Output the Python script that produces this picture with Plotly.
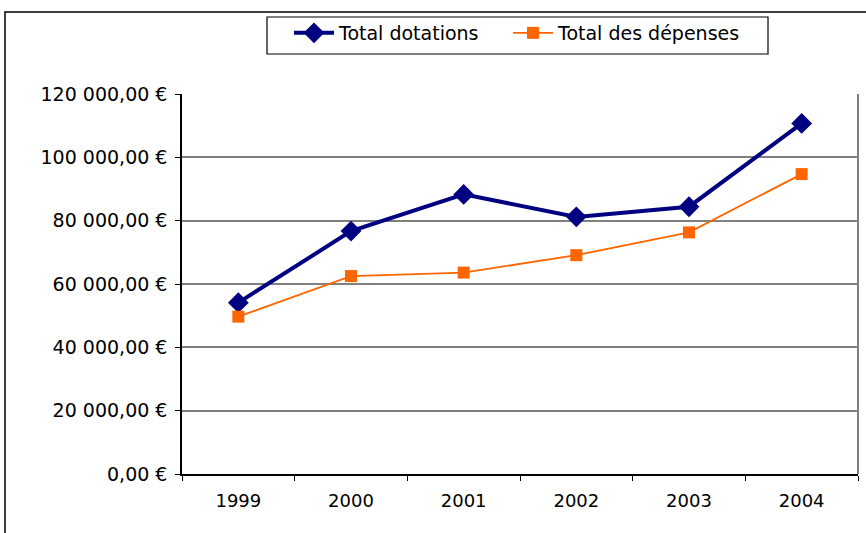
import plotly.graph_objects as go

years = ["1999", "2000", "2001", "2002", "2003", "2004"]
total_dotations = [54100, 76700, 88300, 81200, 84400, 110700]
total_depenses = [49700, 62500, 63600, 69100, 76300, 94700]
y_tick_vals = [0, 20000, 40000, 60000, 80000, 100000, 120000]
y_tick_text = ["0,00 €", "20 000,00 €", "40 000,00 €", "60 000,00 €",
               "80 000,00 €", "100 000,00 €", "120 000,00 €"]

FONT = "DejaVu Sans"

fig = go.Figure()
fig.add_trace(go.Scatter(
    x=years, y=total_dotations, name="Total dotations", mode="lines+markers",
    line=dict(color="#000080", width=4),
    marker=dict(symbol="diamond", size=16, color="#000080"),
    legend="legend",
))
fig.add_trace(go.Scatter(
    x=years, y=total_depenses, name="Total des dépenses", mode="lines+markers",
    line=dict(color="#FF6600", width=1.8),
    marker=dict(symbol="square", size=12, color="#FF6600"),
    legend="legend2",
))

L, R, T, B = 182, 8, 94, 59
W, H = 866, 533
pw, ph = W - L - R, H - T - B

def px_x(p):
    return (p - L) / pw

def px_y(p):
    return (H - B - p) / ph

legend_common = dict(
    orientation="h", yanchor="top", xanchor="left",
    bgcolor="rgba(0,0,0,0)", borderwidth=0,
    font=dict(family=FONT, size=19, color="black"),
    itemwidth=40,
)

fig.update_layout(
    width=W, height=H,
    margin=dict(l=L, r=R, t=T, b=B, autoexpand=False),
    paper_bgcolor="white", plot_bgcolor="white",
    font=dict(family=FONT, size=18, color="black"),
    showlegend=True,
    legend=dict(x=px_x(289), y=px_y(14), **legend_common),
    legend2=dict(x=px_x(508), y=px_y(14), **legend_common),
    xaxis=dict(
        type="category", range=[-0.5, 5.5], tickson="boundaries",
        ticks="outside", ticklen=5, tickcolor="black", tickwidth=1,
        showline=True, linecolor="black", linewidth=1.5,
        showgrid=False, zeroline=False, fixedrange=True,
        ticklabelstandoff=10,
        tickfont=dict(family=FONT, size=18, color="black"),
    ),
    yaxis=dict(
        range=[0, 120000], tickvals=y_tick_vals, ticktext=y_tick_text,
        ticks="outside", ticklen=5, tickcolor="black", tickwidth=1,
        showline=True, linecolor="black", linewidth=1.5,
        showgrid=True, gridcolor="#808080", gridwidth=1.5,
        zeroline=False, fixedrange=True,
        ticklabelstandoff=4,
        tickfont=dict(family=FONT, size=19, color="black"),
    ),
    shapes=[
        # outer chart border (cropped at right and bottom)
        dict(type="rect", xref="paper", yref="paper",
             x0=px_x(5), x1=px_x(W + 10), y0=px_y(H + 10), y1=px_y(12),
             line=dict(color="black", width=1.5), layer="below"),
        # legend box
        dict(type="rect", xref="paper", yref="paper",
             x0=px_x(267), x1=px_x(768), y0=px_y(54), y1=px_y(17),
             line=dict(color="black", width=1.2), fillcolor="white", layer="below"),
        # right border of plot area
        dict(type="line", xref="paper", yref="paper",
             x0=1, x1=1, y0=0, y1=1,
             line=dict(color="#808080", width=2)),
    ],
)

fig.write_html("out.html", config={"displayModeBar": False},
               post_script="document.body.style.margin='0px';")
